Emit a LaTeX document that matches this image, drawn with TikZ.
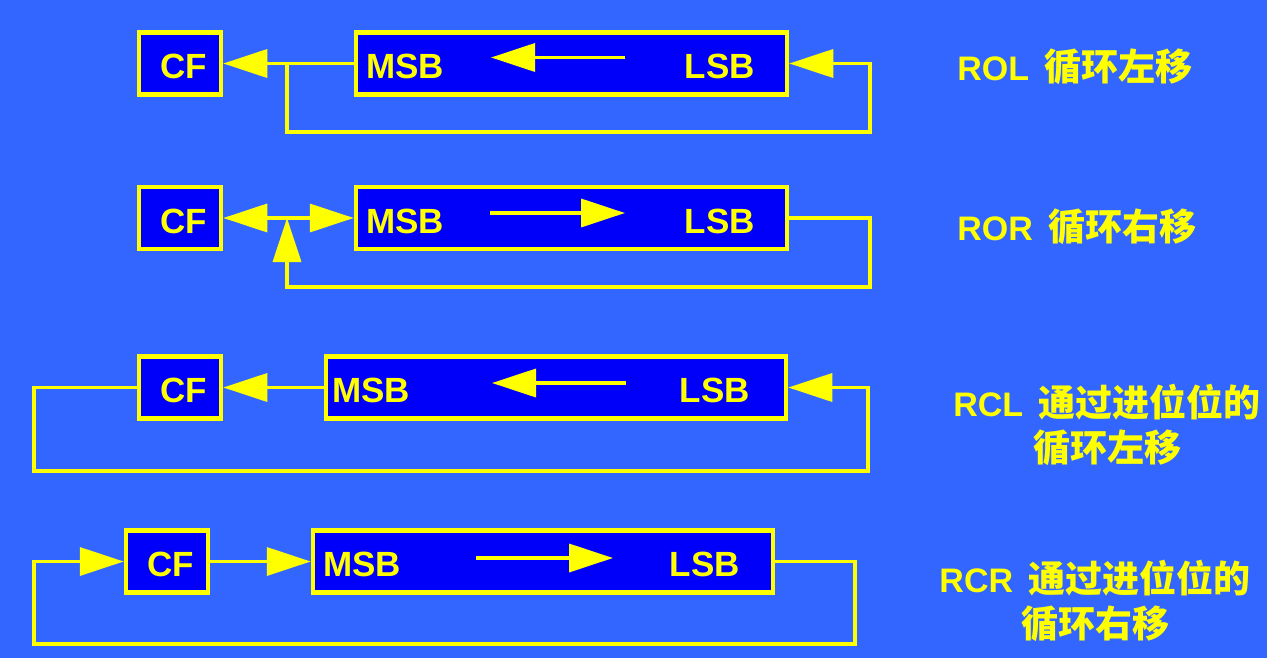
\documentclass[tikz,border=0pt]{standalone}
\usepackage{fontspec}
\setmainfont{Liberation Sans}
\newfontfamily\cjk{Noto Sans CJK SC}
\usetikzlibrary{arrows.meta}
\definecolor{bgblue}{RGB}{51,102,255}
\definecolor{boxblue}{RGB}{0,0,250}
\definecolor{yel}{RGB}{255,255,0}
\newcommand{\cn}[1]{{\cjk\fontsize{18.5}{22.5}\selectfont #1}}
\tikzset{
% Two box styles for the shift diagrams: carry flag and register
flag node/.style={rectangle,draw=yel,fill=boxblue,line width=2.25pt,minimum width=41pt,minimum height=31pt,inner sep=0pt},
reg node/.style={rectangle,draw=yel,fill=boxblue,line width=2.25pt,minimum height=31pt,inner sep=0pt},
bit label/.style={text=yel,font=\fontsize{17.5}{20}\selectfont\bfseries,inner sep=0pt},
op label/.style={text=yel,font=\fontsize{17}{22.5}\selectfont\bfseries,inner sep=0pt,align=center},
shift line/.style={draw=yel,line width=1.75pt},
>={Triangle[length=22pt,width=14pt]}
}

\begin{document}
\begin{tikzpicture}[x=0.5pt,y=-0.5pt]
\fill[bgblue] (0,0) rectangle (1267,658);
\useasboundingbox (0,0) rectangle (1267,658);
% ROL
\node(cfA)[flag node] at (180,63.5){};
\node(regA)[reg node,minimum width=215.5pt] at (571.5,63.5){};
\node[bit label] at ([xshift=2pt,yshift=-1.5pt]cfA){CF};
\node[bit label,anchor=west] at ([xshift=6pt,yshift=-1.5pt]regA.west){MSB};
\node[bit label,anchor=east] at ([xshift=-17pt,yshift=-1.5pt]regA.east){LSB};
\coordinate(brA) at (287,63.5);
\coordinate(loopA) at (870,132);
\draw[shift line,->] (regA.west) -- (cfA.east);
\draw[shift line,->] (brA) |- (loopA) |- (regA.east);
\draw[shift line,->] ([shift={(53.5,-6)}]regA.center) -- ([shift={(-80.5,-6)}]regA.center);
% ROR
\node(cfB)[flag node] at (180,218){};
\node(regB)[reg node,minimum width=215.5pt] at (571.5,218){};
\node[bit label] at ([xshift=2pt,yshift=-1.5pt]cfB){CF};
\node[bit label,anchor=west] at ([xshift=6pt,yshift=-1.5pt]regB.west){MSB};
\node[bit label,anchor=east] at ([xshift=-17pt,yshift=-1.5pt]regB.east){LSB};
\coordinate(brB) at (287,218);
\coordinate(loopB) at (870,287);
\draw[shift line,<->] (cfB.east) -- (regB.west);
\draw[shift line,->] (regB.east) -| (loopB) -| (brB);
\draw[shift line,->] ([shift={(-81.5,-5)}]regB.center) -- ([shift={(53.5,-5)}]regB.center);
% RCL
\node(cfC)[flag node] at (180,387.5){};
\node(regC)[reg node,minimum width=230pt] at (556,387.5){};
\node[bit label] at ([xshift=2pt,yshift=-1.5pt]cfC){CF};
\node[bit label,anchor=west] at ([xshift=4pt,yshift=-1.5pt]regC.west){MSB};
\node[bit label,anchor=east] at ([xshift=-19pt,yshift=-1.5pt]regC.east){LSB};
\coordinate(leftC) at (34,387.5);
\coordinate(loopC) at (868,471);
\draw[shift line,->] (regC.west) -- (cfC.east);
\draw[shift line,->] (cfC.west) -- (leftC) |- (loopC) |- (regC.east);
\draw[shift line,->] ([shift={(70,-4.5)}]regC.center) -- ([shift={(-64,-4.5)}]regC.center);
% RCR
\node(cfD)[flag node] at (167,561.5){};
\node(regD)[reg node,minimum width=230pt] at (543,561.5){};
\node[bit label] at ([xshift=2pt,yshift=-1.5pt]cfD){CF};
\node[bit label,anchor=west] at ([xshift=6pt,yshift=-1.5pt]regD.west){MSB};
\node[bit label,anchor=east] at ([xshift=-17.5pt,yshift=-1.5pt]regD.east){LSB};
\coordinate(leftD) at (34,561.5);
\coordinate(loopD) at (855,644);
\draw[shift line,->] (cfD.east) -- (regD.west);
\draw[shift line,->] (regD.east) -| (loopD) -| (leftD) -- (cfD.west);
\draw[shift line,->] ([shift={(-67,-3.5)}]regD.center) -- ([shift={(70,-3.5)}]regD.center);
% instruction names
\node(opA)[op label,anchor=west] at (957,67){ROL\hspace{3pt} \cn{循环左移}};
\node(opB)[op label,anchor=west] at (957,227){ROR\hspace{3pt} \cn{循环右移}};
\node(opC)[op label] at (1107,425){RCL\hspace{3pt} \cn{通过进位位的}\\\cn{循环左移}};
\node(opD)[op label] at (1095,601){RCR\hspace{3pt} \cn{通过进位位的}\\\cn{循环右移}};
\end{tikzpicture}
\end{document}
